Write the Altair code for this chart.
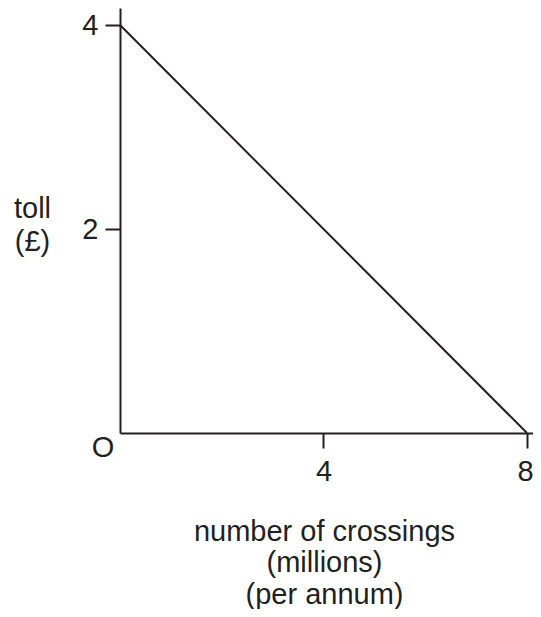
import altair as alt
import pandas as pd

# data
line_x = [0, 8]
line_y = [4, 0]
x_ticks = [4, 8]
y_ticks = [2, 4]
origin_label = ["O"]
x_title = ["number of crossings", "(millions)", "(per annum)"]
y_title = ["toll", "(£)"]

INK = "#231f20"
FONT = "Liberation Sans"
FS = 29

df = pd.DataFrame({"x": line_x, "y": line_y})
df_o = pd.DataFrame({"x": [0], "y": [0], "t": origin_label})

xscale = alt.Scale(domain=[0, 8.118], nice=False, zero=False)
yscale = alt.Scale(domain=[0, 4.167], nice=False, zero=False)

xaxis = alt.Axis(
    values=x_ticks, format="d", grid=False, tickSize=15, tickWidth=2, tickColor=INK,
    domainColor=INK, domainWidth=2, labelFont=FONT, labelFontSize=FS,
    labelColor=INK, labelPadding=9, labelFlush=False,
    labelOffset=alt.condition("datum.value == 8", alt.value(-2), alt.value(0)),
    title=x_title, titleFont=FONT, titleFontSize=FS, titleFontWeight="normal",
    titleColor=INK, titleLineHeight=31.5, titleAlign="center",
    titleBaseline="alphabetic", titleX=204, titleY=107,
)
yaxis = alt.Axis(
    values=y_ticks, format="d", grid=False, tickSize=15, tickWidth=2, tickColor=INK,
    domainColor=INK, domainWidth=2, labelFont=FONT, labelFontSize=FS,
    labelColor=INK, labelPadding=7, labelFlush=False,
    title=y_title, titleFont=FONT, titleFontSize=FS, titleFontWeight="normal",
    titleColor=INK, titleLineHeight=33, titleAlign="center", titleAngle=0,
    titleBaseline="alphabetic", titleX=-88, titleY=209,
)

line = alt.Chart(df).mark_line(color=INK, strokeWidth=2).encode(
    x=alt.X("x:Q", scale=xscale, axis=xaxis),
    y=alt.Y("y:Q", scale=yscale, axis=yaxis),
)

olab = alt.Chart(df_o).mark_text(
    font=FONT, fontSize=FS, color=INK, align="center", baseline="middle",
    dx=-17, dy=15,
).encode(
    x=alt.X("x:Q", scale=xscale),
    y=alt.Y("y:Q", scale=yscale),
    text="t:N",
)

chart = (line + olab).properties(
    width=413, height=425,
    autosize=alt.AutoSizeParams(type="none"),
    padding={"left": 112, "top": 0, "right": 0, "bottom": 176},
).configure_view(strokeWidth=0)

chart.save("out.html", embed_options={"renderer": "svg", "actions": False})
